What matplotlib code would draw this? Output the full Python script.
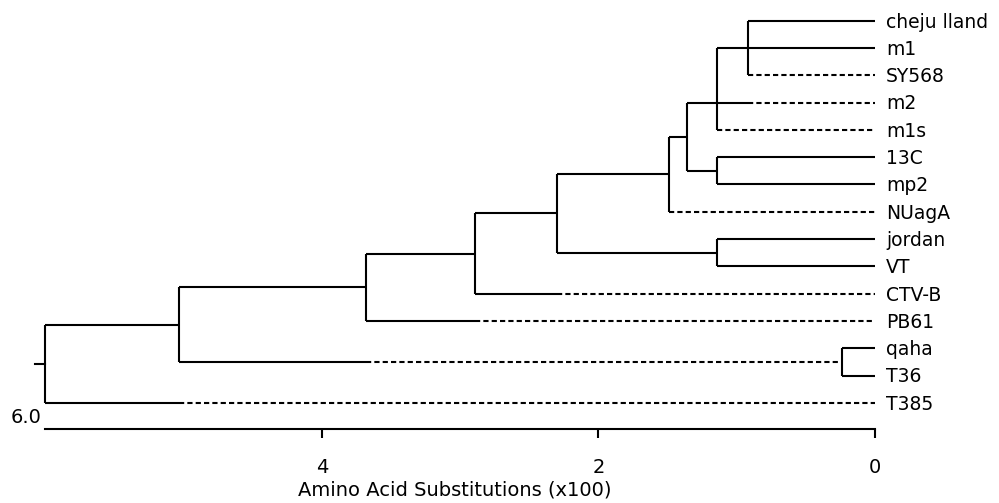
import matplotlib
matplotlib.use("Agg")
import matplotlib.pyplot as plt

plt.rcParams['font.family'] = ['DejaVu Sans']

# leaves, top to bottom
leaf_names = ['cheju lland', 'm1', 'SY568', 'm2', 'm1s', '13C', 'mp2', 'NUagA',
              'jordan', 'VT', 'CTV-B', 'PB61', 'qaha', 'T36', 'T385']

# internal nodes (distance in x100 substitutions) and their children
clade_names = ['A', 'B', 'C', 'D', 'E', 'F', 'G', 'H', 'I', 'J', 'K', 'root']
clade_heights = [0.92, 1.14, 1.14, 1.36, 1.49, 1.14, 2.30, 2.89, 3.68, 0.24, 5.03, 6.0]
clade_children = [
    ['cheju lland', 'm1', 'SY568'],
    ['A', 'm2', 'm1s'],
    ['13C', 'mp2'],
    ['B', 'C'],
    ['D', 'NUagA'],
    ['jordan', 'VT'],
    ['E', 'F'],
    ['G', 'CTV-B'],
    ['H', 'PB61'],
    ['qaha', 'T36'],
    ['I', 'J'],
    ['K', 'T385'],
]
# branches drawn dashed from this distance onwards
dash_names = ['SY568', 'm2', 'm1s', 'NUagA', 'CTV-B', 'PB61', 'J', 'T385']
dash_start = [0.92, 0.92, 1.14, 1.49, 2.30, 2.89, 3.68, 5.03]

axis_ticks = [4, 2, 0]

my_dpi = 100
fig = plt.figure(figsize=(999 / my_dpi, 503 / my_dpi), dpi=my_dpi)
ax = fig.add_axes([0, 0, 1, 1])
ax.set_xlim(6.327, -0.897)
ax.set_ylim(17.67, -0.758)

LW = 1.5
DASH = (2.5, 1.5)

ypos = {n: i for i, n in enumerate(leaf_names)}
height = {n: 0.0 for n in leaf_names}
for name, h, kids in zip(clade_names, clade_heights, clade_children):
    ys = [ypos[k] for k in kids]
    ypos[name] = ys[len(ys) // 2] if len(ys) % 2 else (ys[0] + ys[-1]) / 2
    height[name] = h
dashed = dict(zip(dash_names, dash_start))

for name, h, kids in zip(clade_names, clade_heights, clade_children):
    ys = [ypos[k] for k in kids]
    ax.plot([h, h], [min(ys), max(ys)], color='black', lw=LW, solid_capstyle='butt')
    for k in kids:
        end = height[k]
        split = dashed.get(k, end)
        if split < h:
            ax.plot([h, split], [ypos[k], ypos[k]], color='black', lw=LW,
                    solid_capstyle='butt')
        if split > end:
            ax.plot([split, end], [ypos[k], ypos[k]], color='black', lw=LW,
                    linestyle=(0, DASH))

# root stub
ax.plot([6.0, 6.075], [ypos['root'], ypos['root']], color='black', lw=LW)

for n in leaf_names:
    ax.text(-0.08, ypos[n] + 0.05, n, fontsize=13.5, ha='left', va='center')

# scale bar as the x axis
for s in ['top', 'left', 'right']:
    ax.spines[s].set_visible(False)
ax.spines['bottom'].set_position(('data', 14.96))
ax.spines['bottom'].set_bounds(0, 6)
ax.spines['bottom'].set_linewidth(LW)
ax.set_yticks([])
ax.set_xticks(axis_ticks)
ax.set_xticklabels([str(t) for t in axis_ticks])
ax.tick_params(axis='x', direction='out', length=6.5, width=LW, pad=14,
               labelsize=14)
ax.text(6.03, 14.55, '6.0', fontsize=14, ha='right', va='center')
ax.text(3.04, 17.2, 'Amino Acid Substitutions (x100)', fontsize=14,
        ha='center', va='center')

fig.savefig("out.png", dpi=my_dpi)
plt.close(fig)
